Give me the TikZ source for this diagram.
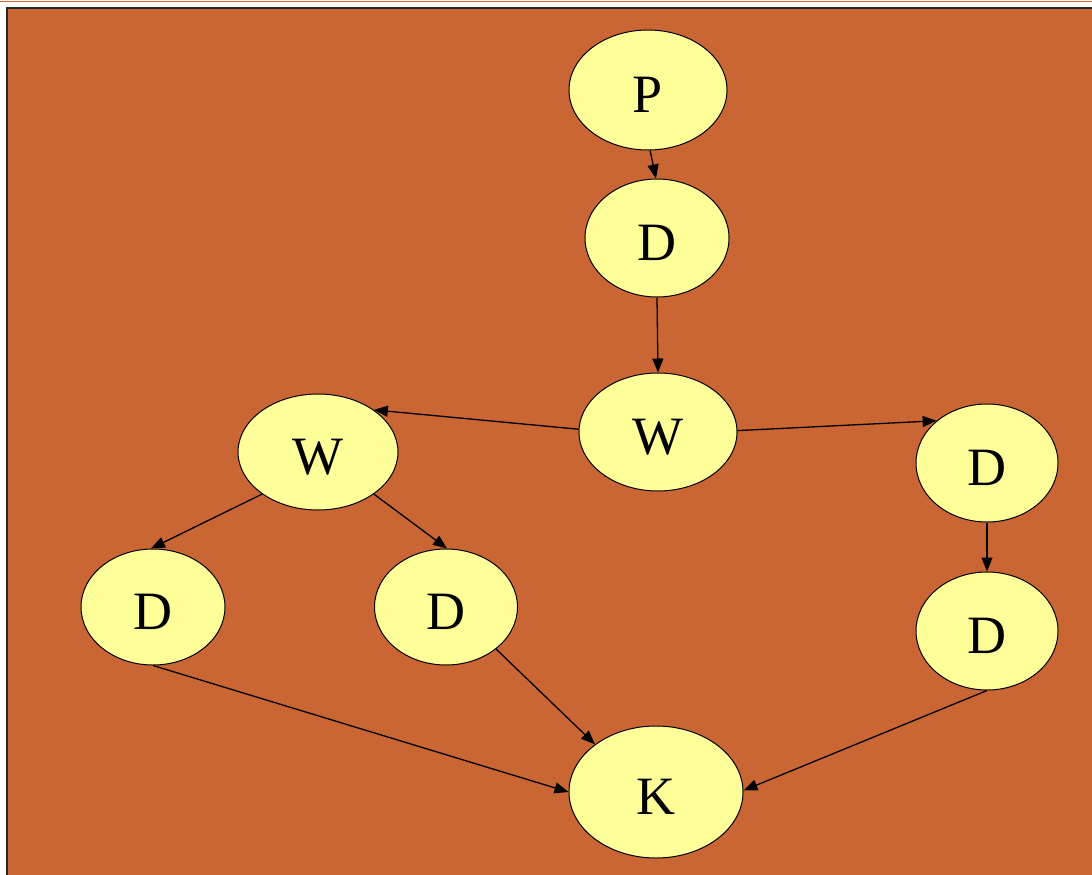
\documentclass[tikz,border=0pt]{standalone}
\usepackage{fontspec}
\setmainfont{Liberation Serif}
\usetikzlibrary{shapes.geometric,arrows.meta}
\definecolor{bgorange}{HTML}{CA6633}
\definecolor{nodeyellow}{HTML}{FFFF99}
\tikzset{
  ell/.style={ellipse, draw=black, line width=1pt, fill=nodeyellow, inner sep=0pt, text depth=0pt, text height=44pt, font=\fontsize{54}{54}\selectfont},
  edge/.style={draw=black, line width=1.3pt, -{Triangle[length=14pt,width=11pt]}}
}
\begin{document}
\begin{tikzpicture}[x=1pt,y=-1pt]
\useasboundingbox (0,0) rectangle (1092,875);
\fill[white] (0,0) rectangle (1092,875);
\draw[bgorange, line width=1.2pt] (0,1.5) -- (1092,1.5);
\fill[bgorange] (7,8) rectangle (1092,875);
\draw[black!85, line width=2pt] (7,875) -- (7,8) -- (1092,8);

\node[ell, minimum width=158pt, minimum height=120pt] (P) at (648,90) {P};
\node[ell, minimum width=144pt, minimum height=118pt] (D1) at (657,238) {D};
\node[ell, minimum width=158pt, minimum height=118pt] (W) at (658,432) {W};
\node[ell, minimum width=160pt, minimum height=116pt] (WL) at (318,452) {W};
\node[ell, minimum width=142pt, minimum height=118pt] (DR1) at (987,463) {D};
\node[ell, minimum width=142pt, minimum height=118pt] (DR2) at (987,631) {D};
\node[ell, minimum width=144pt, minimum height=116pt] (DL) at (153,607) {D};
\node[ell, minimum width=143pt, minimum height=116pt] (DM) at (446,607) {D};
\node[ell, minimum width=174pt, minimum height=132pt] (K) at (656,792) {K};

\draw[edge] (P.-88) -- (D1.91);
\draw[edge] (D1.-90) -- (W.90);
\draw[edge] (W.178.5) -- (WL.37.7);
\draw[edge] (W.1.5) -- (DR1.140);
\draw[edge] (WL.217.5) -- (DL.92);
\draw[edge] (WL.-37) -- (DM.89);
\draw[edge] (DR1.-90) -- (DR2.90);
\draw[edge] (DL.-90) -- (K.180);
\draw[edge] (DM.-40) -- (K.142);
\draw[edge] (DR2.-90) -- (K.1);
\end{tikzpicture}
\end{document}
